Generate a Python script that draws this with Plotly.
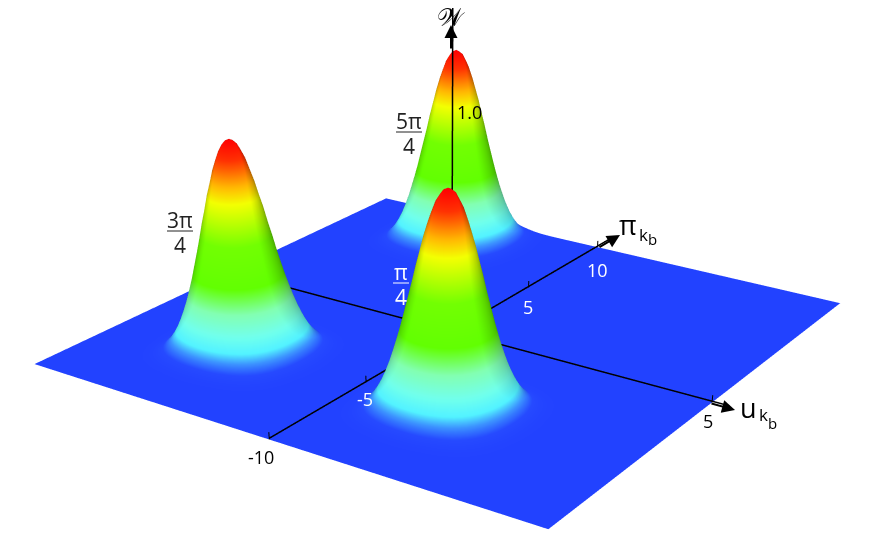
import numpy as np
import plotly.graph_objects as go

# Window size is 872x544, the figure is taller on purpose: plotly's fov is fixed,
# so a tall canvas is the only way to get the weak perspective of the reference
FIG_W = 872
FIG_H = 1436
BODY_MARGIN = 8  # default page margin, the plot div starts here

# axes
u_grid = np.linspace(-5, 5, 121)
pi_grid = np.linspace(-10, 10, 121)
u_ticks = [5]
pi_ticks = [-10, -5, 5, 10]

# peaks
peak_names = ["pi/4", "3pi/4", "5pi/4"]
peak_u = [1.69, -2.53, -2.5]
peak_pi = [-5.21, -5.19, 7.73]
peak_height = [0.85, 0.85, 0.85]

# peak profile by grid steps from the centre
profile = [1.000, 0.989, 0.955, 0.900, 0.830, 0.745, 0.650, 0.555, 0.460, 0.370,
           0.285, 0.210, 0.148, 0.098, 0.060, 0.034, 0.018, 0.009, 0.004, 0.002,
           0.001, 0.000]

colors = [
    [0.00, "#2040ff"], [0.03, "#2448ff"], [0.07, "#3a90ff"], [0.11, "#50f0ff"],
    [0.18, "#70ffe8"], [0.27, "#80ffb0"], [0.38, "#60ff00"], [0.56, "#70ff00"],
    [0.74, "#f0ff00"], [0.82, "#ffb000"], [0.92, "#ff3000"], [1.00, "#ff0000"],
]


def side(n):
    return profile[n] if n < len(profile) else 0.0


z = np.zeros((len(pi_grid), len(u_grid)))
for pu, pp, h in zip(peak_u, peak_pi, peak_height):
    cu = int(np.abs(u_grid - pu).argmin())
    cp = int(np.abs(pi_grid - pp).argmin())
    for j in range(len(pi_grid)):
        for i in range(len(u_grid)):
            z[j, i] += h * side(abs(i - cu)) * side(abs(j - cp))

fig = go.Figure()
fig.add_trace(go.Surface(
    x=u_grid, y=pi_grid, z=z, cmin=0, cmax=max(peak_height), colorscale=colors,
    showscale=False, hoverinfo="skip",
    lighting=dict(ambient=0.55, diffuse=0.8, specular=0.02, roughness=0.9, fresnel=0),
    lightposition=dict(x=1500, y=-300, z=900),
))


def line3d(xs, ys, zs, width=3):
    fig.add_trace(go.Scatter3d(x=xs, y=ys, z=zs, mode="lines", hoverinfo="skip",
                               line=dict(color="black", width=width), showlegend=False))


# axis lines
line3d([-5, 5.3], [0, 0], [0.005, 0.005])
line3d([0, 0], [-10, 11], [0.005, 0.005])
line3d([0, 0], [0, 0], [0, 1.3])

# ticks
for t in u_ticks:
    line3d([t, t], [0, 0], [0, 0.03], width=2)
for t in pi_ticks:
    line3d([0, 0], [t, t], [0, 0.03], width=2)
line3d([0, 0], [0, 0], [1.0, 1.0], width=2)

annos = []


def paper_x(px):
    return (px - BODY_MARGIN) / FIG_W


def paper_y(py):
    return 1 - (py - BODY_MARGIN) / FIG_H


def arrow(tip_x, tip_y, tail_x, tail_y):
    annos.append(dict(x=paper_x(tip_x), y=paper_y(tip_y), xref="paper", yref="paper",
                      axref="pixel", ayref="pixel", ax=tail_x - tip_x, ay=tail_y - tip_y,
                      text="", showarrow=True, arrowhead=2, arrowsize=1.3, arrowwidth=2,
                      arrowcolor="black"))


def label(px, py, text, size=17, color="black", family="Open Sans"):
    # positions are in window pixels
    annos.append(dict(x=paper_x(px), y=paper_y(py), xref="paper", yref="paper",
                      text=text, showarrow=False, xanchor="center", yanchor="middle",
                      font=dict(size=size, color=color, family=family)))


def fraction(px, py, top, bottom, half_w, color):
    label(px, py - 11, top, size=21, color=color)
    label(px, py + 14, bottom, size=21, color=color)
    return dict(type="line", xref="paper", yref="paper", layer="above",
                x0=paper_x(px - half_w), x1=paper_x(px + half_w),
                y0=paper_y(py), y1=paper_y(py), line=dict(color=color, width=1))


arrow(451, 25, 451, 50)
arrow(620, 235, 598, 248)
arrow(735, 410, 710, 403)

shapes = [
    fraction(180, 231, "3π", "4", 13, "#222222"),
    fraction(409, 132, "5π", "4", 13, "#222222"),
    fraction(401, 283, "π", "4", 8, "white"),
]

label(261, 457, "-10", size=18)
label(365, 399, "-5", size=18, color="white")
label(528, 307, "5", size=18, color="white")
label(597, 270, "10", size=18, color="white")
label(708, 421, "5", size=18)
label(469, 112, "1.0", size=18)
label(451, 17, "𝒲", size=25, family="DejaVu Serif")
label(748, 407, "u", size=27)
label(763, 415, "k", size=17)
label(772, 423, "b", size=15)
label(628, 225, "π", size=27)
label(643, 234, "k", size=17)
label(652, 239, "b", size=15)

fig.update_layout(
    width=FIG_W, height=FIG_H, margin=dict(l=0, r=0, t=0, b=0), showlegend=False,
    paper_bgcolor="white", annotations=annos, shapes=shapes,
    scene=dict(
        xaxis=dict(visible=False, range=[-6, 6]),
        yaxis=dict(visible=False, range=[-12, 12]),
        zaxis=dict(visible=False, range=[-1.5, 1.5]),
        aspectmode="manual", aspectratio=dict(x=1.2, y=1.2, z=1.245),
        camera=dict(
            eye=dict(x=1.579, y=-2.347, z=1.185),
            center=dict(x=0.144, y=-0.236, z=-0.637),
            up=dict(x=0, y=0, z=1),
        ),
    ),
)

fig.write_html("out.html")
